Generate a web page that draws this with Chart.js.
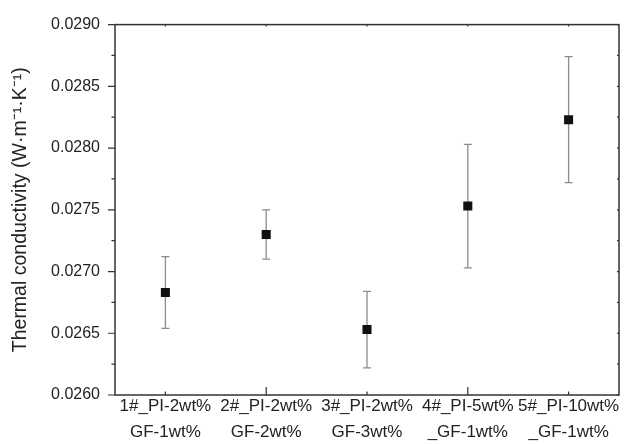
<!DOCTYPE html>
<html>
<head>
<meta charset="utf-8">
<script src="https://cdn.jsdelivr.net/npm/chart.js@4.4.0/dist/chart.umd.min.js"></script>
<style>
  html, body { margin: 0; padding: 0; background: #fff; }
  #wrap { width: 630px; height: 444px; }
</style>
</head>
<body>
<div id="wrap"><canvas id="kChart"></canvas></div>
<script>
// sample names (two lines each)
const sampleLabels = [
  ['1#_PI-2wt%', 'GF-1wt%'],
  ['2#_PI-2wt%', 'GF-2wt%'],
  ['3#_PI-2wt%', 'GF-3wt%'],
  ['4#_PI-5wt%', '_GF-1wt%'],
  ['5#_PI-10wt%', '_GF-1wt%']
];
// thermal conductivity and its error
const kValues = [0.02683, 0.02730, 0.02653, 0.02753, 0.02823];
const kErrors = [0.00029, 0.00020, 0.00031, 0.00050, 0.00051];
// y axis
const yTickLabels = ['0.0260', '0.0265', '0.0270', '0.0275', '0.0280', '0.0285', '0.0290'];
const yMin = 0.0260;
const yMax = 0.0290;
const yMinorStep = 0.00025;

const FONT = "'Liberation Sans', Arial, sans-serif";
const TEXT = '#222';
const AXIS = '#333';

// error bars under the markers, frame + ticks on top
const framePlugin = {
  id: 'frameTicks',
  beforeDatasetsDraw(chart) {
    const c = chart.ctx;
    const xs = chart.scales.x;
    const ys = chart.scales.y;
    c.save();
    c.strokeStyle = '#8c8c8c';
    c.lineWidth = 1.3;
    kValues.forEach(function(v, i) {
      const x = xs.getPixelForValue(i + 1);
      const yt = ys.getPixelForValue(v + kErrors[i]);
      const yb = ys.getPixelForValue(v - kErrors[i]);
      c.beginPath();
      c.moveTo(x, yt); c.lineTo(x, yb);
      c.moveTo(x - 4, yt); c.lineTo(x + 4, yt);
      c.moveTo(x - 4, yb); c.lineTo(x + 4, yb);
      c.stroke();
    });
    c.restore();
  },
  afterDraw(chart) {
    const c = chart.ctx;
    const a = chart.chartArea;
    const xs = chart.scales.x;
    const ys = chart.scales.y;
    c.save();
    c.strokeStyle = AXIS;
    c.lineWidth = 1.5;
    c.strokeRect(a.left, a.top, a.right - a.left, a.bottom - a.top);
    c.lineWidth = 1.2;
    c.beginPath();
    // y ticks: outward on the left, tiny inward on the right
    ys.ticks.forEach(function(t, i) {
      const y = ys.getPixelForValue(t.value);
      const len = i % 2 === 0 ? 7 : 3.5;
      c.moveTo(a.left - len, y); c.lineTo(a.left, y);
      c.moveTo(a.right, y); c.lineTo(a.right - 2, y);
    });
    // x ticks: inward at bottom, tiny at top
    xs.ticks.forEach(function(t, i) {
      const x = xs.getPixelForValue(t.value);
      const len = i % 2 === 1 ? 8 : 3.5;
      c.moveTo(x, a.bottom); c.lineTo(x, a.bottom - len);
      c.moveTo(x, a.top); c.lineTo(x, a.top + 2);
    });
    c.stroke();
    c.restore();
  }
};

new Chart(document.getElementById('kChart'), {
  type: 'scatter',
  data: {
    datasets: [{
      label: 'k',
      data: kValues.map(function(v, i) { return { x: i + 1, y: v }; }),
      pointStyle: 'rect',
      pointRadius: 6.4,
      pointBorderWidth: 0,
      backgroundColor: '#111',
      borderColor: '#111'
    }]
  },
  options: {
    responsive: true,
    maintainAspectRatio: false,
    animation: false,
    layout: { padding: { top: 20, right: 11, left: 0, bottom: 0 } },
    plugins: {
      legend: { display: false },
      tooltip: { enabled: false }
    },
    scales: {
      x: {
        type: 'linear',
        min: 0.5,
        max: 5.5,
        afterBuildTicks: function(scale) {
          scale.ticks = sampleLabels.map(function(_, i) { return { value: i + 1 }; });
        },
        afterFit: function(scale) { scale.height = 49; },
        grid: { display: false, drawTicks: false },
        border: { display: false },
        ticks: {
          autoSkip: false,
          maxRotation: 0,
          padding: -1,
          color: TEXT,
          font: { family: FONT, size: 17, lineHeight: 1.5 },
          callback: function(value, index) { return sampleLabels[index]; }
        }
      },
      y: {
        min: yMin,
        max: yMax,
        afterBuildTicks: function(scale) {
          const t = [];
          for (let i = 0; i <= 12; i++) t.push({ value: yMin + i * yMinorStep });
          scale.ticks = t;
        },
        afterFit: function(scale) { scale.width = 115; },
        grid: { display: false, drawTicks: false },
        border: { display: false },
        ticks: {
          autoSkip: false,
          padding: 15,
          color: TEXT,
          font: { family: FONT, size: 16 },
          callback: function(value, index) {
            return index % 2 === 0 ? yTickLabels[index / 2] : '';
          }
        },
        title: {
          display: true,
          text: 'Thermal conductivity (W·m⁻¹·K⁻¹)',
          color: TEXT,
          padding: { top: 9, bottom: 0 },
          font: { family: FONT, size: 19.5 }
        }
      }
    }
  },
  plugins: [framePlugin]
});
</script>
</body>
</html>
